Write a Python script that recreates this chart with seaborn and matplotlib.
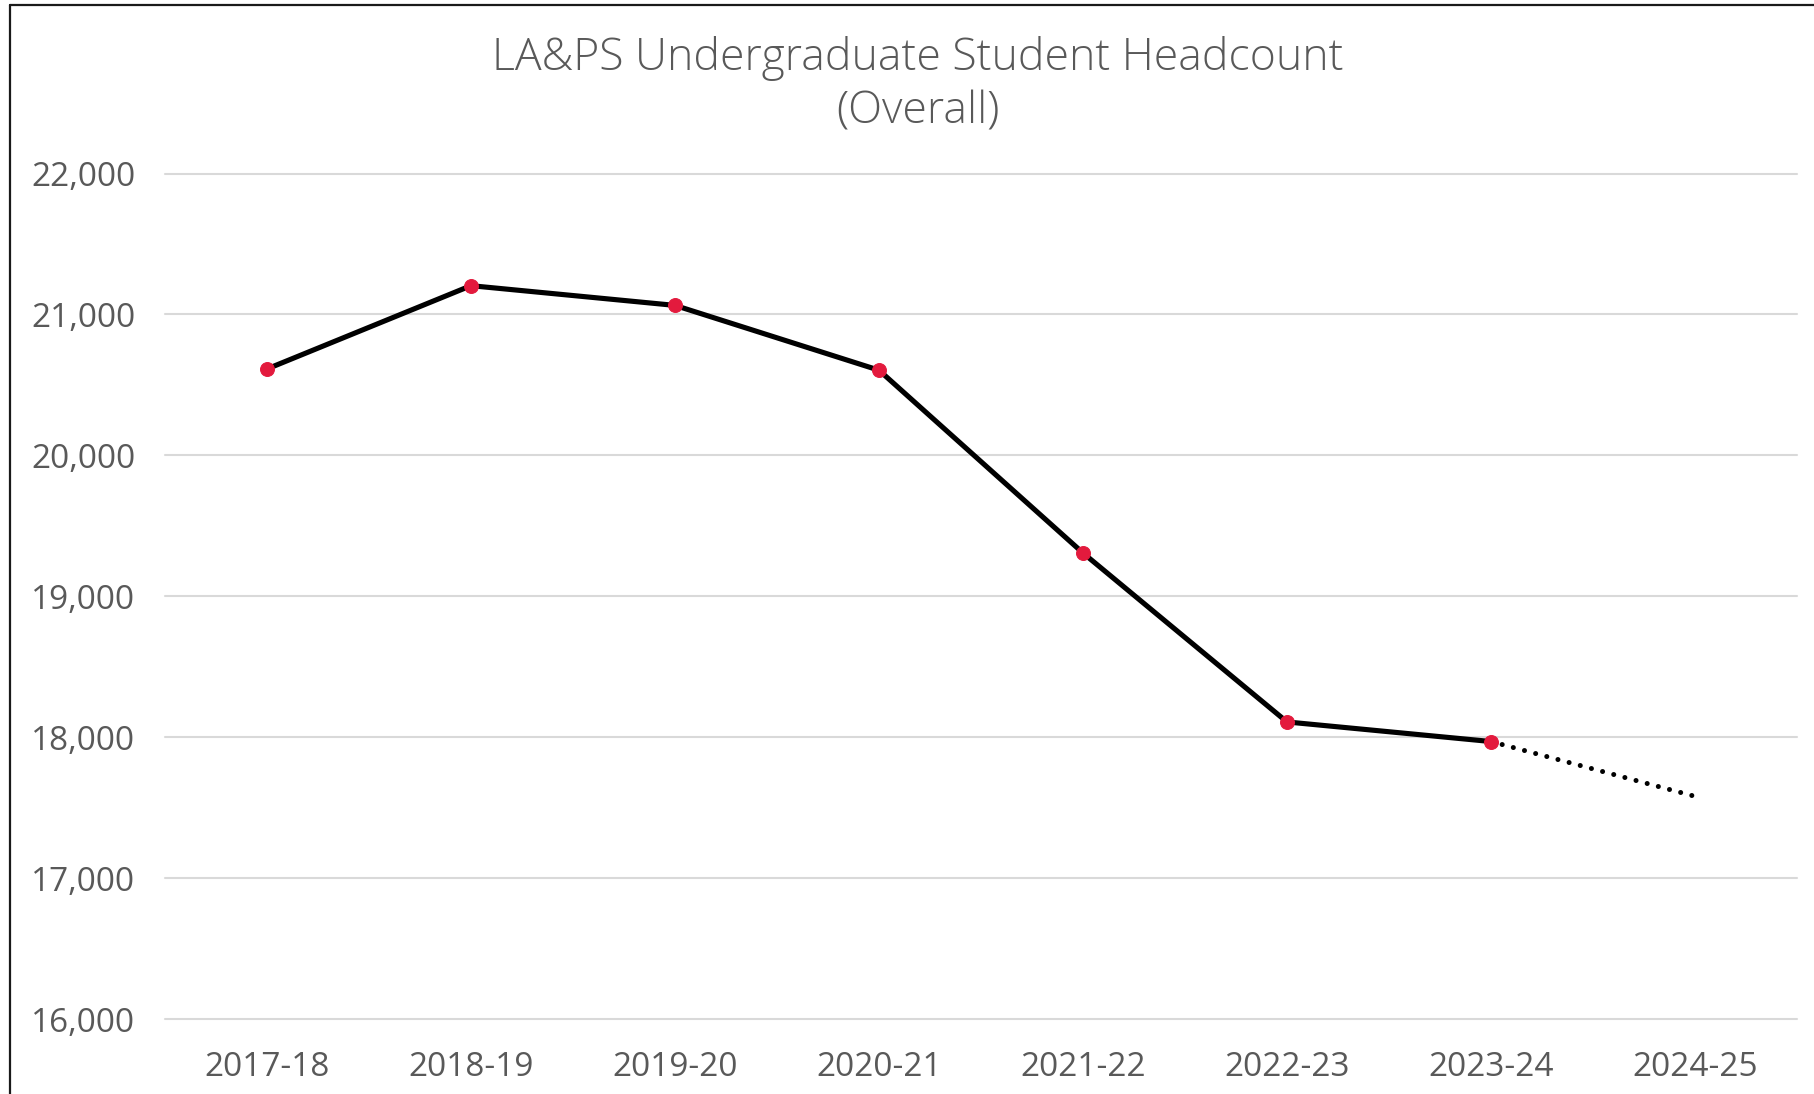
import matplotlib
matplotlib.use("Agg")
import matplotlib.pyplot as plt
import seaborn as sns
import pandas as pd
from matplotlib.lines import Line2D

# ---- data ----
years = ["2017-18", "2018-19", "2019-20", "2020-21", "2021-22", "2022-23", "2023-24"]
headcount = [20613, 21204, 21064, 20604, 19307, 18108, 17969]
proj_years = ["2023-24", "2024-25"]
proj_values = [17969, 17580]
title_lines = ["LA&PS Undergraduate Student Headcount", "(Overall)"]
y_ticks = [16000, 17000, 18000, 19000, 20000, 21000, 22000]

sns.set_theme(style="white")
plt.rcParams["font.family"] = ["Open Sans", "DejaVu Sans"]

W, H = 1814, 1094
fig = plt.figure(figsize=(W / 100, H / 100), dpi=100)
ax = fig.add_axes([165 / W, 1 - 1019 / H, (1797 - 165) / W, (1019 - 173.5) / H])

df = pd.DataFrame({"year": years, "count": headcount})
dfp = pd.DataFrame({"year": proj_years, "count": proj_values})

sns.lineplot(data=df, x="year", y="count", ax=ax, color="black", lw=3.7,
             marker="o", markersize=10, markerfacecolor="#E31A3D",
             markeredgecolor="#E31A3D", zorder=3, sort=False)
sns.lineplot(data=dfp, x="year", y="count", ax=ax, color="black", lw=3.6,
             linestyle=(0, (0.01, 2.3)), dash_capstyle="round", zorder=2, sort=False)

ax.set_xlim(-0.5, 7.5)
ax.set_ylim(16000, 22000)
ax.set_yticks(y_ticks)
ax.set_yticklabels([f"{v:,}" for v in y_ticks])
ax.set_xlabel("")
ax.set_ylabel("")
for s in ax.spines.values():
    s.set_visible(False)
ax.grid(axis="y", color="#d9d9d9", lw=1.5)
ax.grid(axis="x", visible=False)
ax.set_axisbelow(True)
for gl in ax.get_ygridlines():
    gl.set_clip_on(False)
ax.tick_params(axis="both", length=0, labelsize=24, labelcolor="#595959")
ax.tick_params(axis="y", pad=21.5)
ax.tick_params(axis="x", pad=23)

fig.text(918 / W, 1 - 85.5 / H, "\n".join(title_lines), ha="center", va="center",
         fontsize=32, color="#595959", linespacing=1.28, fontweight="light")

# border (left and top)
fig.add_artist(Line2D([10 / W, 10 / W], [0, 1 - 5 / H], transform=fig.transFigure,
                      color="#1a1a1a", lw=1.6))
fig.add_artist(Line2D([10 / W, 1], [1 - 5 / H, 1 - 5 / H], transform=fig.transFigure,
                      color="#1a1a1a", lw=1.6))

fig.savefig("out.png", dpi=100, facecolor="white")
